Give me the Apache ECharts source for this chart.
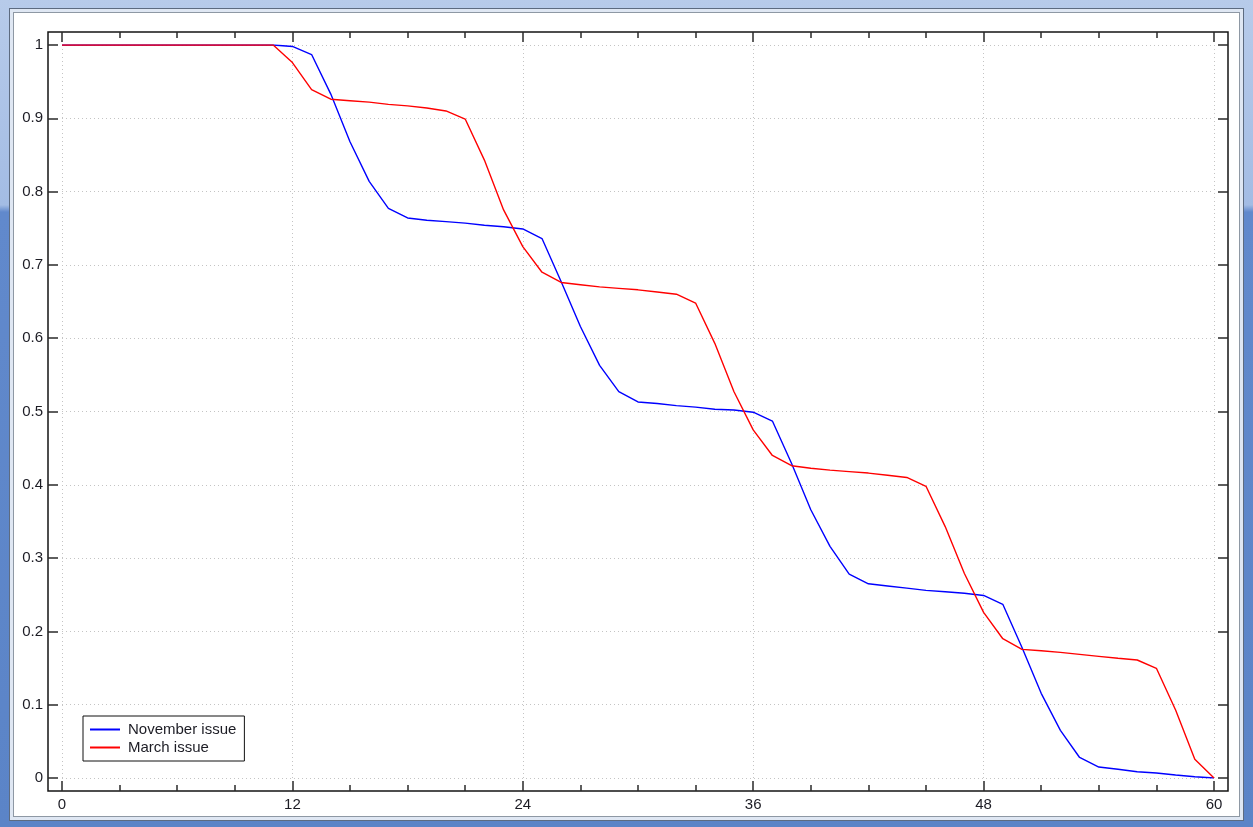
<!DOCTYPE html>
<html>
<head>
<meta charset="utf-8">
<title>November vs March issue</title>
<script src="https://cdn.jsdelivr.net/npm/echarts@6/dist/echarts.min.js"></script>
<style>
  html, body { margin: 0; padding: 0; }
  #frame {
    position: relative; width: 1253px; height: 827px; overflow: hidden;
    background: linear-gradient(to bottom, #b7cbea 0px, #a3bce4 205px, #6189cc 212px, #5b84c7 100%);
  }
  #panel {
    position: absolute; left: 13px; top: 12px; width: 1225px; height: 803px;
    background: #fff; border: 1px solid #8e98a4;
    box-shadow: 0 0 0 3px #dfe7f3, 0 0 0 4px #5d6b80;
  }
  #chart { position: absolute; left: 0; top: 0; width: 1253px; height: 827px; }
</style>
</head>
<body>
<div id="frame">
  <div id="panel"></div>
  <div id="chart"></div>
</div>
<script>
// Month index along the x axis
const months = [
  0, 1, 2, 3, 4, 5, 6, 7, 8, 9, 10, 11,
  12, 13, 14, 15, 16, 17, 18, 19, 20, 21, 22, 23, 24,
  25, 26, 27, 28, 29, 30, 31, 32, 33, 34, 35, 36,
  37, 38, 39, 40, 41, 42, 43, 44, 45, 46, 47, 48,
  49, 50, 51, 52, 53, 54, 55, 56, 57, 58, 59, 60
];

// Remaining fraction, November issue
const novemberIssue = [
  1, 1, 1, 1, 1, 1, 1, 1, 1, 1, 1, 1,
  0.998, 0.987, 0.933, 0.868, 0.814, 0.777, 0.764, 0.761, 0.759, 0.757, 0.754, 0.752, 0.749,
  0.736, 0.677, 0.616, 0.563, 0.527, 0.513, 0.511, 0.508, 0.506, 0.503, 0.502, 0.499,
  0.487, 0.429, 0.366, 0.316, 0.278, 0.265, 0.262, 0.259, 0.256, 0.254, 0.252, 0.249,
  0.237, 0.178, 0.1155, 0.065, 0.028, 0.015, 0.012, 0.0086, 0.0068, 0.0041, 0.0018, 0
];

// Remaining fraction, March issue
const marchIssue = [
  1, 1, 1, 1, 1, 1, 1, 1, 1, 1, 1, 1,
  0.976, 0.939, 0.926, 0.924, 0.922, 0.919, 0.917, 0.914, 0.910, 0.899, 0.843, 0.775, 0.725,
  0.690, 0.676, 0.673, 0.670, 0.668, 0.666, 0.663, 0.660, 0.648, 0.593, 0.527, 0.475,
  0.440, 0.426, 0.4225, 0.420, 0.418, 0.416, 0.413, 0.410, 0.398, 0.343, 0.279, 0.226,
  0.190, 0.1755, 0.1737, 0.1714, 0.1687, 0.166, 0.1633, 0.161, 0.1497, 0.0928, 0.0255, 0
];

const seriesNames = ['November issue', 'March issue'];
const xRange = [0, 60];
const xStep = 12;
const yRange = [0, 1];
const yStep = 0.1;

const FONT = '"Liberation Sans", Arial, sans-serif';
const TEXT = '#1c1c24';
const TICK = { color: '#2a2a2a', width: 1.5 };
const GRIDLINE = { color: '#c4c4c4', width: 1, type: [1, 3] };

function pairs(xs, ys) { return xs.map((x, i) => [x, ys[i]]); }

const chart = echarts.init(document.getElementById('chart'), null, { renderer: 'canvas' });

const tickBase = {
  axisLine: { show: false, onZero: false },
  axisTick: { show: true, inside: true, length: 10, lineStyle: TICK },
};

chart.setOption({
  backgroundColor: 'transparent',
  animation: false,
  textStyle: { fontFamily: FONT },
  grid: [
    // outer plot box
    { left: 48, top: 32, width: 1180, height: 759, show: true, borderColor: '#141414', borderWidth: 1.5, backgroundColor: '#fff' },
    // data area
    { left: 62, top: 45, width: 1152, height: 733 }
  ],
  xAxis: [
    { gridIndex: 0, type: 'value', show: false, min: 0, max: 1 },
    Object.assign({}, tickBase, {
      gridIndex: 1, type: 'value', position: 'bottom', offset: 13,
      min: xRange[0], max: xRange[1], interval: xStep,
      minorTick: { show: true, splitNumber: 4, length: 6, lineStyle: TICK },
      axisLabel: { margin: 6, fontSize: 15, color: TEXT, fontFamily: FONT },
      splitLine: { show: true, lineStyle: GRIDLINE }
    }),
    Object.assign({}, tickBase, {
      gridIndex: 1, type: 'value', position: 'top', offset: 13,
      min: xRange[0], max: xRange[1], interval: xStep,
      minorTick: { show: true, splitNumber: 4, length: 6, lineStyle: TICK },
      axisLabel: { show: false },
      splitLine: { show: false }
    })
  ],
  yAxis: [
    { gridIndex: 0, type: 'value', show: false, min: 0, max: 1 },
    Object.assign({}, tickBase, {
      gridIndex: 1, type: 'value', position: 'left', offset: 14,
      min: yRange[0], max: yRange[1], interval: yStep,
      axisLabel: { margin: 5, fontSize: 15, color: TEXT, fontFamily: FONT },
      splitLine: { show: true, lineStyle: GRIDLINE }
    }),
    Object.assign({}, tickBase, {
      gridIndex: 1, type: 'value', position: 'right', offset: 14,
      min: yRange[0], max: yRange[1], interval: yStep,
      axisLabel: { show: false },
      splitLine: { show: false }
    })
  ],
  legend: {
    orient: 'vertical', left: 83, top: 716,
    padding: [6, 8, 6, 7], itemGap: 3,
    itemWidth: 30, itemHeight: 2, icon: 'rect',
    borderColor: '#111', borderWidth: 1, backgroundColor: '#fff',
    textStyle: { fontSize: 15, color: TEXT, fontFamily: FONT, padding: [0, 0, 0, 3] },
    data: seriesNames
  },
  series: [
    {
      name: seriesNames[0], type: 'line', xAxisIndex: 1, yAxisIndex: 1,
      data: pairs(months, novemberIssue), showSymbol: false, z: 3,
      lineStyle: { color: '#0000ff', width: 1.4 }, itemStyle: { color: '#0000ff' }
    },
    {
      name: seriesNames[1], type: 'line', xAxisIndex: 1, yAxisIndex: 1,
      data: pairs(months, marchIssue), showSymbol: false, z: 4,
      lineStyle: { color: '#ff0000', width: 1.4 }, itemStyle: { color: '#ff0000' }
    }
  ]
});
</script>
</body>
</html>
